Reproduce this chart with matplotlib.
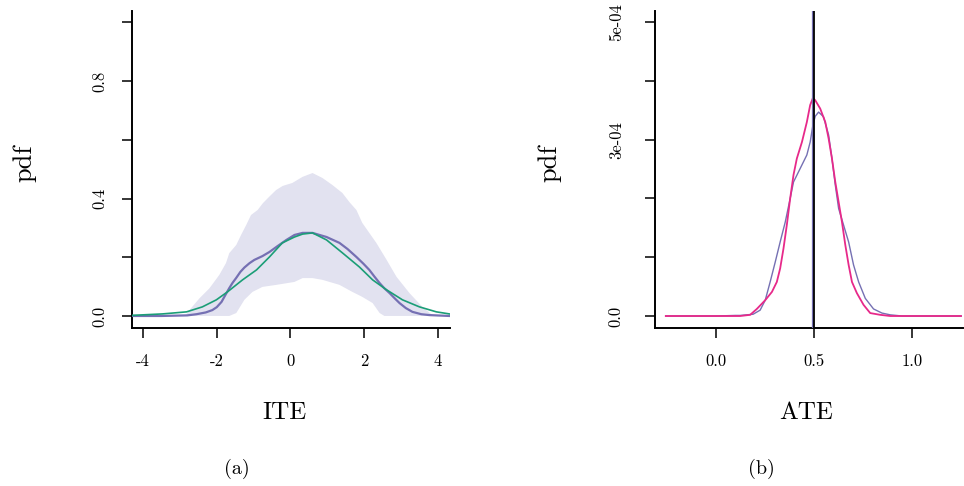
import numpy as np
import matplotlib
matplotlib.use("Agg")
import matplotlib.pyplot as plt
from matplotlib.ticker import FixedLocator, FixedFormatter

# ---------------- data: panel (a) ITE ----------------
ite_post_x = [-4.3, -3.5, -2.8, -2.55, -2.3, -2.12, -2.0, -1.87, -1.75, -1.66, -1.57, -1.47, -1.36, -1.25,
              -1.11, -0.98, -0.76, -0.57, -0.35, -0.11, 0.11, 0.33, 0.60, 0.98, 1.33, 1.55, 1.79,
              1.98, 2.14, 2.28, 2.42, 2.55, 2.69, 2.83, 2.96, 3.13, 3.31, 3.55, 3.77, 4.31]
ite_post_y = [0.0, 0.0, 0.002, 0.006, 0.012, 0.020, 0.030, 0.048, 0.075, 0.095, 0.113, 0.130, 0.150, 0.165,
              0.180, 0.191, 0.204, 0.218, 0.238, 0.259, 0.276, 0.283, 0.283, 0.269, 0.249, 0.228, 0.201,
              0.178, 0.157, 0.134, 0.112, 0.094, 0.078, 0.060, 0.044, 0.027, 0.014, 0.006, 0.003, 0.0]

ite_true_x = [-4.3, -3.47, -2.82, -2.39, -2.01, -1.71, -1.30, -0.92, -0.57, -0.22, 0.11, 0.33, 0.60,
              0.98, 1.41, 1.87, 2.23, 2.61, 3.04, 3.50, 3.96, 4.31]
ite_true_y = [0.002, 0.007, 0.014, 0.031, 0.055, 0.082, 0.123, 0.157, 0.201, 0.249, 0.269, 0.279, 0.283,
              0.259, 0.215, 0.167, 0.123, 0.089, 0.055, 0.031, 0.014, 0.007]

band_up_x = [-2.85, -2.74, -2.47, -2.20, -1.93, -1.75, -1.66, -1.47, -1.34, -1.20, -1.07, -0.89, -0.75,
             -0.57, -0.39, -0.21, -0.03, 0.05, 0.33, 0.60, 0.87, 1.14, 1.41, 1.60, 1.79, 1.95, 2.14,
             2.33, 2.61, 2.88, 3.23, 3.58, 3.85, 4.0]
band_up_y = [0.0, 0.020, 0.060, 0.094, 0.140, 0.180, 0.214, 0.242, 0.276, 0.310, 0.344, 0.361, 0.384,
             0.407, 0.429, 0.443, 0.450, 0.453, 0.474, 0.487, 0.470, 0.446, 0.419, 0.388, 0.361, 0.317, 0.283,
             0.249, 0.191, 0.133, 0.078, 0.031, 0.003, 0.0]
band_lo_x = [-2.85, -1.66, -1.47, -1.25, -1.03, -0.76, -0.38, 0.11, 0.33, 0.60, 0.87, 1.33, 1.68,
             1.95, 2.23, 2.42, 2.55, 4.0]
band_lo_y = [0.0, 0.0, 0.010, 0.055, 0.082, 0.099, 0.106, 0.116, 0.129, 0.129, 0.123, 0.106, 0.082,
             0.065, 0.044, 0.010, 0.0, 0.0]

ite_yticks = [0.0, 0.2, 0.4, 0.6, 0.8, 1.0]
ite_ylabels = ["0.0", "", "0.4", "", "0.8", ""]
ite_xticks = [-4, -2, 0, 2, 4]
ite_xlabels = ["-4", "-2", "0", "2", "4"]

# ---------------- data: panel (b) ATE (pdf in units of 1e-4) ----------------
ate_post_x = [-0.255, 0.0, 0.10, 0.124, 0.19, 0.226, 0.252, 0.277, 0.303, 0.328, 0.354, 0.379, 0.396,
              0.430, 0.464, 0.481, 0.495, 0.507, 0.524, 0.549, 0.575, 0.592, 0.609, 0.626, 0.651,
              0.677, 0.702, 0.728, 0.762, 0.804, 0.847, 0.889, 0.95, 1.25]
ate_post_y = [0.0, 0.0, 0.01, 0.01, 0.03, 0.10, 0.27, 0.58, 0.92, 1.26, 1.60, 2.0, 2.28,
              2.51, 2.74, 2.96, 3.25, 3.40, 3.47, 3.39, 3.08, 2.68, 2.23, 1.83, 1.55,
              1.26, 0.87, 0.58, 0.30, 0.12, 0.05, 0.02, 0.0, 0.0]
ate_alt_x = [-0.255, 0.0, 0.124, 0.175, 0.209, 0.252, 0.286, 0.311, 0.328, 0.345, 0.362, 0.379, 0.396,
             0.413, 0.439, 0.464, 0.481, 0.495, 0.507, 0.532, 0.558, 0.575, 0.592, 0.609, 0.626, 0.643,
             0.660, 0.677, 0.694, 0.719, 0.753, 0.787, 0.838, 0.889, 1.25]
ate_alt_y = [0.0, 0.0, 0.0, 0.02, 0.12, 0.27, 0.41, 0.58, 0.81, 1.15, 1.55, 2.0, 2.40,
             2.68, 2.96, 3.30, 3.59, 3.71, 3.67, 3.53, 3.30, 3.02, 2.68, 2.28, 1.94, 1.60,
             1.21, 0.87, 0.58, 0.39, 0.19, 0.05, 0.02, 0.0, 0.0]
ate_unit = 1e-4
ate_true = 0.5
ate_est = 0.497

ate_yticks = [0, 1e-4, 2e-4, 3e-4, 4e-4, 5e-4]
ate_ylabels = ["0.0", "", "", "3e-04", "", "5e-04"]
ate_xticks = [0.0, 0.5, 1.0]
ate_xlabels = ["0.0", "0.5", "1.0"]

# ---------------- styling ----------------
plt.rcParams["font.family"] = ["cmr10", "DejaVu Serif"]
plt.rcParams["mathtext.fontset"] = "cm"
plt.rcParams["axes.unicode_minus"] = False

PURPLE = "#7570B3"
GREEN = "#1B9E77"
PINK = "#E7298A"
BAND = "#E2E2F0"

W, H = 964, 486
fig = plt.figure(figsize=(W / 100, H / 100), dpi=100)


def px_axes(x0, x1, y0, y1):
    return fig.add_axes([x0 / W, 1 - y1 / H, (x1 - x0) / W, (y1 - y0) / H])


def style(ax, ypad):
    for s in ("top", "right"):
        ax.spines[s].set_visible(False)
    for s in ("left", "bottom"):
        ax.spines[s].set_linewidth(1.4)
    ax.tick_params(axis="both", direction="out", length=7.5, width=1.1, labelsize=12)
    ax.tick_params(axis="x", pad=11)
    ax.tick_params(axis="y", pad=ypad)
    for lab in ax.get_yticklabels():
        lab.set_rotation(90)
        lab.set_va("center")


# ---- panel (a)
ax1 = px_axes(132, 450, 11, 328)
ax1.fill(np.concatenate([band_up_x, band_lo_x[::-1]]),
         np.concatenate([band_up_y, band_lo_y[::-1]]),
         color=BAND, lw=0, zorder=1)
ax1.plot(ite_post_x, ite_post_y, color=PURPLE, lw=1.6, zorder=3, solid_joinstyle="round")
ax1.plot(ite_true_x, ite_true_y, color=GREEN, lw=1.2, zorder=4, solid_joinstyle="round")
ax1.set_xlim(-4.3, 4.33)
ax1.set_ylim(-0.041, 1.039)
ax1.xaxis.set_major_locator(FixedLocator(ite_xticks))
ax1.xaxis.set_major_formatter(FixedFormatter(ite_xlabels))
ax1.yaxis.set_major_locator(FixedLocator(ite_yticks))
ax1.yaxis.set_major_formatter(FixedFormatter(ite_ylabels))
style(ax1, ypad=10)

# ---- panel (b)
ax2 = px_axes(655, 963, 11, 328)
ax2.plot(ate_post_x, np.array(ate_post_y) * ate_unit, color=PURPLE, lw=1.0, zorder=3, solid_joinstyle="round")
ax2.plot(ate_alt_x, np.array(ate_alt_y) * ate_unit, color=PINK, lw=1.3, zorder=4, solid_joinstyle="round")
ax2.axvline(ate_est, color=PURPLE, lw=1.6, zorder=5)
ax2.axvline(ate_true + 0.003, color="black", lw=1.3, zorder=6)
ax2.set_xlim(-0.31, 1.26)
ax2.set_ylim(-2.04e-5, 5.19e-4)
ax2.xaxis.set_major_locator(FixedLocator(ate_xticks))
ax2.xaxis.set_major_formatter(FixedFormatter(ate_xlabels))
ax2.yaxis.set_major_locator(FixedLocator(ate_yticks))
ax2.yaxis.set_major_formatter(FixedFormatter(ate_ylabels))
style(ax2, ypad=15)

# ---- labels
def ftext(x, y, s, size, rot=0):
    fig.text(x / W, 1 - y / H, s, fontsize=size, rotation=rot, ha="center", va="center")

ftext(25, 163, "pdf", 19, 90)
ftext(550, 163, "pdf", 19, 90)
ftext(284, 413, "ITE", 18)
ftext(806, 413, "ATE", 18)
ftext(237, 469, "(a)", 14.5)
ftext(761, 469, "(b)", 14.5)

fig.savefig("out.png", dpi=100)
